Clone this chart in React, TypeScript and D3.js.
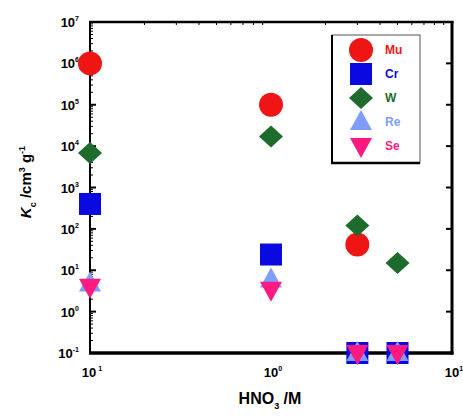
import React from "react";
import * as d3 from "d3";

const seriesNames = ["Mu", "Cr", "W", "Re", "Se"];
const colors = ["#f01515", "#0a0ae0", "#1e6b2e", "#7f9dff", "#ff1a82"];
const xMu = [0.1, 1, 3];
const yMu = [1e6, 1e5, 42];
const xCr = [0.1, 1, 3, 5];
const yCr = [400, 24, 0.1, 0.1];
const xW = [0.1, 1, 3, 5];
const yW = [6800, 17000, 120, 15];
const xRe = [0.1, 1, 3, 5];
const yRe = [4.8, 6, 0.1, 0.1];
const xSe = [0.1, 1, 3, 5];
const ySe = [4, 3.4, 0.1, 0.1];
const yTickExps = [7, 6, 5, 4, 3, 2, 1, 0, -1];
const xTickExps = [-1, 0, 1];
const xTickLabels = ["1", "0", "1"];

const W = 463, H = 417;
const L = 90, R = 452, T = 22, B = 353;

export default function App() {
  const x = d3.scaleLog().domain([0.1, 10]).range([L, R]);
  const y = d3.scaleLog().domain([0.1, 1e7]).range([B, T]);
  const font = "'Liberation Sans', Arial, sans-serif";

  const series = [
    { xs: xMu, ys: yMu },
    { xs: xCr, ys: yCr },
    { xs: xW, ys: yW },
    { xs: xRe, ys: yRe },
    { xs: xSe, ys: ySe },
  ];

  const marker = (i: number, cx: number, cy: number, key: string) => {
    const c = colors[i];
    if (i === 0) return <circle key={key} cx={cx} cy={cy} r={12} fill={c} />;
    if (i === 1) return <rect key={key} x={cx - 11} y={cy - 11} width={22} height={22} fill={c} />;
    if (i === 2)
      return <path key={key} d={`M${cx},${cy - 11}L${cx + 12},${cy}L${cx},${cy + 11}L${cx - 12},${cy}Z`} fill={c} />;
    if (i === 3)
      return <path key={key} d={`M${cx},${cy - 12}L${cx + 11},${cy + 8}L${cx - 11},${cy + 8}Z`} fill={c} />;
    return <path key={key} d={`M${cx - 11},${cy - 8}L${cx + 11},${cy - 8}L${cx},${cy + 12}Z`} fill={c} />;
  };

  const minorY: number[] = [];
  for (let e = -1; e < 7; e++) {
    for (let m = 2; m <= 9; m++) minorY.push(m * Math.pow(10, e));
  }
  const minorX: number[] = [];
  for (let e = -1; e < 1; e++) {
    for (let m = 2; m <= 9; m++) minorX.push(m * Math.pow(10, e));
  }

  const legendX = 332, legendY = 35, legendW = 88, legendH = 128;

  return (
    <svg width={W} height={H} style={{ position: "absolute", left: 0, top: 0 }}>
      <rect width={W} height={H} fill="#fff" />
      {yTickExps.map((e) => (
        <line key={"yt" + e} x1={L} x2={L + 6} y1={y(Math.pow(10, e))} y2={y(Math.pow(10, e))} stroke="#000" strokeWidth={2} />
      ))}
      {minorY.map((v, i) => (
        <line key={"ym" + i} x1={L} x2={L + 3} y1={y(v)} y2={y(v)} stroke="#000" strokeWidth={1} />
      ))}
      {yTickExps.map((e) => (
        <line key={"yr" + e} x1={R - 6} x2={R} y1={y(Math.pow(10, e))} y2={y(Math.pow(10, e))} stroke="#000" strokeWidth={2} />
      ))}
      {minorX.map((v, i) => (
        <line key={"xm" + i} x1={x(v)} x2={x(v)} y1={T} y2={T + 3} stroke="#000" strokeWidth={1} />
      ))}
      <line x1={L} x2={L} y1={T} y2={B} stroke="#000" strokeWidth={2} />
      <line x1={L - 1} x2={R + 1.5} y1={T} y2={T} stroke="#000" strokeWidth={2.5} />
      <line x1={R} x2={R} y1={T - 1} y2={B + 1.5} stroke="#000" strokeWidth={3} />
      <line x1={L - 1} x2={R + 1.5} y1={B} y2={B} stroke="#000" strokeWidth={3.5} />

      {yTickExps.map((e) => (
        <text key={"yl" + e} x={79} y={y(Math.pow(10, e)) + 5} textAnchor="end" fontFamily={font} fontWeight="bold" fontSize={13}>
          10<tspan dy={-6} fontSize={7}>{e}</tspan>
        </text>
      ))}
      {xTickExps.map((e, i) => (
        <text key={"xl" + e} x={x(Math.pow(10, e)) + 2} y={377} textAnchor="middle" fontFamily={font} fontWeight="bold" fontSize={13}>
          10<tspan dy={-6} fontSize={7}>{e === -1 ? " " + xTickLabels[i] : xTickLabels[i]}</tspan>
        </text>
      ))}

      {series.map((s, i) =>
        s.xs.map((xv, j) => marker(i, x(xv), y(s.ys[j]), `m${i}-${j}`))
      )}

      <rect x={legendX} y={legendY} width={legendW} height={legendH} fill="#fff" stroke="#555" strokeWidth={1} />
      <line x1={legendX} x2={legendX} y1={legendY} y2={legendY + legendH} stroke="#000" strokeWidth={2} />
      <line x1={legendX - 1} x2={legendX + legendW} y1={legendY + legendH} y2={legendY + legendH} stroke="#000" strokeWidth={2.5} />
      {seriesNames.map((n, i) => {
        const ly = 50 + i * 24;
        return (
          <g key={"lg" + n}>
            {marker(i, 361, ly, "lm" + i)}
            <text x={385} y={ly + 4} fontFamily={font} fontWeight="bold" fontSize={12} fill={colors[i]}>{n}</text>
          </g>
        );
      })}

      <text x={270} y={404} textAnchor="middle" fontFamily={font} fontWeight="bold" fontSize={16}>
        HNO<tspan dy={5} fontSize={9}>3</tspan><tspan dy={-5}> /M</tspan>
      </text>
      <text transform="translate(31,182) rotate(-90)" textAnchor="middle" fontFamily={font} fontWeight="bold" fontSize={15}>
        <tspan fontStyle="italic">K</tspan><tspan dy={5} fontSize={9}>c</tspan><tspan dy={-5}> /cm</tspan><tspan dy={-6} fontSize={9}>3</tspan><tspan dy={6}> g</tspan><tspan dy={-6} fontSize={9}>-1</tspan>
      </text>
    </svg>
  );
}
